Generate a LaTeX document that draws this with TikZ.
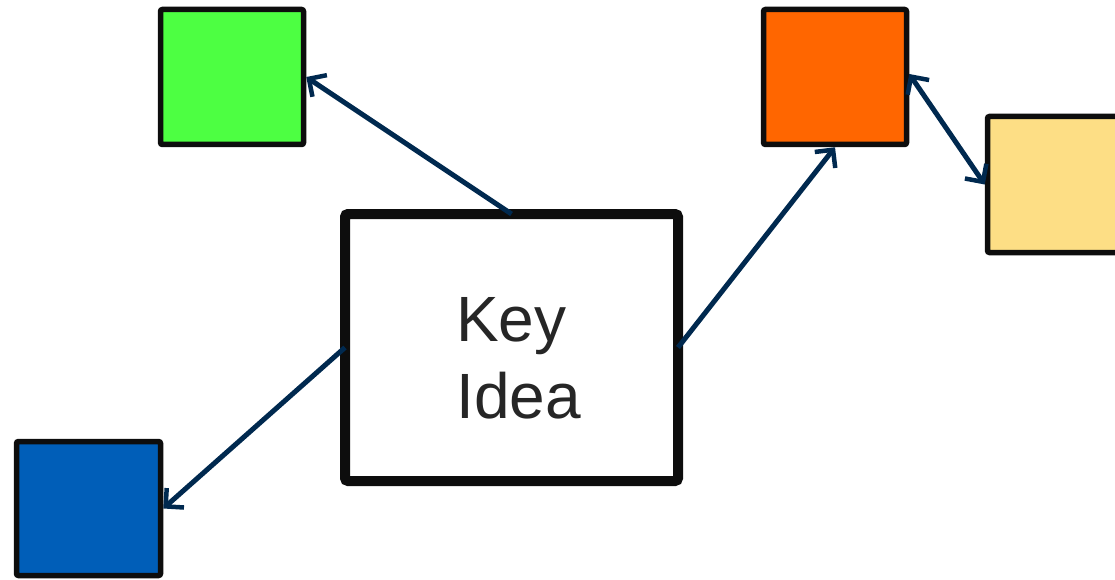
\documentclass[tikz,border=0pt]{standalone}
\usepackage{fontspec}
\setmainfont{Liberation Sans}
\usetikzlibrary{arrows.meta}
\definecolor{edgeblack}{RGB}{13,13,13}
\definecolor{linknavy}{RGB}{0,41,79}
\definecolor{inkgrey}{RGB}{38,38,38}
\definecolor{leafgreen}{RGB}{77,255,66}
\definecolor{leaforange}{RGB}{255,102,0}
\definecolor{leafyellow}{RGB}{253,222,133}
\definecolor{leafblue}{RGB}{0,94,184}
\tikzset{
  leaf/.style={draw=edgeblack, line width=5.5pt, rounded corners=2pt,
    minimum width=143pt, minimum height=135pt, inner sep=0pt},
  keybox/.style={draw=edgeblack, line width=10pt, rounded corners=3pt,
    fill=white, minimum width=333pt, minimum height=267pt, inner sep=0pt, outer sep=0pt},
  keytext/.style={text=inkgrey, align=left, inner sep=0pt,
    font=\fontsize{64pt}{77pt}\selectfont},
  barb/.tip={Straight Barb[length=13pt,width=26pt,line width=4.5pt]},
  link/.style={draw=linknavy, line width=5pt, -{barb}},
  biglink/.style={link, {barb}-{barb}}
}
\begin{document}
\begin{tikzpicture}[x=1pt,y=-1pt]
  \useasboundingbox (0,0) rectangle (1115,580);
  % central idea
  \node[keybox] (key) at (511.5,347.5) {};
  \node[keytext, anchor=base west] (keylabel) at (456,418) {Key\\Idea};
  % surrounding ideas
  \node[leaf, fill=leafgreen] (green) at (232,77) {};
  \node[leaf, fill=leaforange] (orange) at (835,77) {};
  \node[leaf, fill=leafyellow, minimum height=136pt] (yellow) at (1059,184.5) {};
  \node[leaf, fill=leafblue, minimum width=144pt, minimum height=134pt] (blue) at (88.5,508.5) {};
  % connectors
  \draw[link] (key.north) -- (green.east);
  \draw[link] (key.east) -- (orange.south);
  \draw[link] (key.west) -- (blue.east);
  \draw[biglink] ([yshift=3pt]orange.east) -- (yellow.west);
\end{tikzpicture}
\end{document}
